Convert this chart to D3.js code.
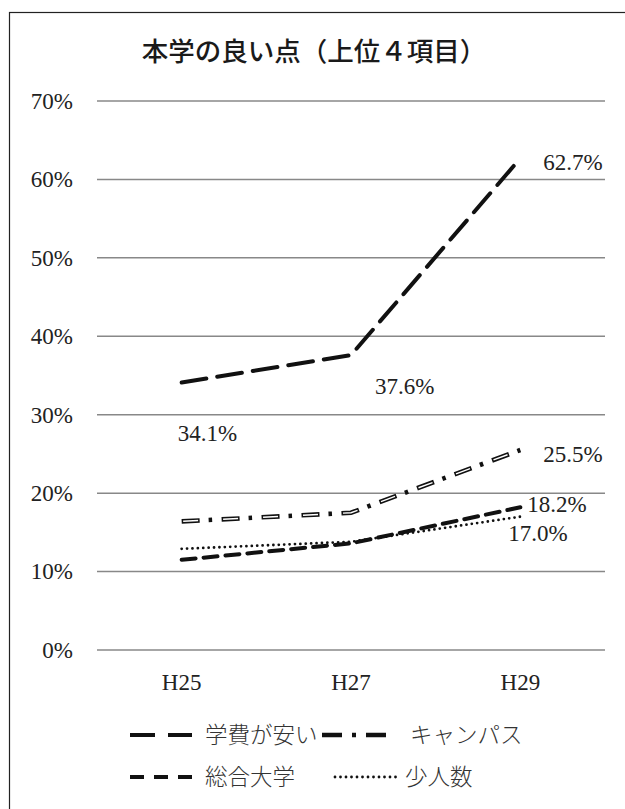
<!DOCTYPE html>
<html>
<head>
<meta charset="utf-8">
<script src="https://cdn.jsdelivr.net/npm/d3@7"></script>
<style>
  body { margin: 0; background: #fff; }
  svg { display: block; }
  .num { font-family: 'Liberation Serif', 'Times New Roman', 'DejaVu Serif', serif; }
</style>
</head>
<body>
<div id="chart"></div>
<script>
// data
var years = ['H25', 'H27', 'H29']
var tuition = [34.1, 37.6, 62.7]   // 学費が安い
var campus = [16.4, 17.5, 25.5]    // キャンパス
var general = [11.5, 13.6, 18.2]   // 総合大学
var small = [12.9, 13.8, 17.0]     // 少人数
var yTicks = [0, 10, 20, 30, 40, 50, 60, 70]

var W = 625, H = 809
var svg = d3.select('#chart').append('svg').attr('width', W).attr('height', H)

// outer frame
svg.append('rect')
  .attr('x', 9.5).attr('y', 12.5)
  .attr('width', 625).attr('height', 809)
  .attr('fill', 'white').attr('stroke', '#222').attr('stroke-width', 1.2)

svg.append('text')
  .text('本学の良い点（上位４項目）')
  .attr('x', 314).attr('y', 61)
  .attr('text-anchor', 'middle')
  .style('font-family', "'Noto Sans CJK JP'")
  .style('font-weight', 500)
  .style('font-size', '26.5px')
  .attr('fill', '#1a1a1a')

var x = d3.scaleBand().domain(years).range([97, 605])
var y = d3.scaleLinear().domain([0, 70]).range([650, 101])

// gridlines
svg.append('g').selectAll('line')
  .data(yTicks).join('line')
  .attr('x1', 97).attr('x2', 605)
  .attr('y1', d => y(d)).attr('y2', d => y(d))
  .attr('stroke', '#888').attr('stroke-width', 1.5)

// y axis labels
var yAxis = svg.append('g')
  .attr('transform', 'translate(76,0)')
  .call(d3.axisLeft(y).tickValues(yTicks).tickFormat(d => d + '%').tickSize(0))
yAxis.select('.domain').remove()
yAxis.selectAll('text')
  .attr('class', 'num').style('font-size', '23px').attr('fill', '#222')

// x axis labels
var xAxis = svg.append('g')
  .attr('transform', 'translate(0,671)')
  .call(d3.axisBottom(x).tickSize(0))
xAxis.select('.domain').remove()
xAxis.selectAll('text')
  .attr('class', 'num').style('font-size', '23px').attr('fill', '#222')

var px = (d, i) => x(years[i]) + x.bandwidth() / 2
var line = d3.line().x(px).y(d => y(d))

var styles = {
  tuition: { w: 4, dash: '25,11' },
  general: { w: 4, dash: '14,8' },
  small: { w: 2.8, dash: '0,5.4' }
}

function drawLine(g, vals, style) {
  if (style == 'campus') {
    g.append('path').attr('d', line(vals))
      .attr('fill', 'none').attr('stroke', '#111').attr('stroke-width', 4.6)
      .attr('stroke-dasharray', '18,9,3.5,9.5').attr('stroke-linecap', 'butt')
    g.append('path').attr('d', line(vals))
      .attr('fill', 'none').attr('stroke', 'white').attr('stroke-width', 1.4)
      .attr('stroke-dasharray', '0,1.5,15,23.5').attr('stroke-linecap', 'butt')
  } else {
    var s = styles[style]
    g.append('path').attr('d', line(vals))
      .attr('fill', 'none').attr('stroke', '#111')
      .attr('stroke-width', s.w)
      .attr('stroke-dasharray', s.dash)
      .attr('stroke-linecap', 'round')
  }
}

var lines = svg.append('g')
drawLine(lines, small, 'small')
drawLine(lines, general, 'general')
drawLine(lines, campus, 'campus')
drawLine(lines, tuition, 'tuition')

// value labels
var labels = [
  { v: tuition[0], i: 0, dx: -4, dy: 58 },
  { v: tuition[1], i: 1, dx: 24, dy: 39 },
  { v: tuition[2], i: 2, dx: 23, dy: 12 },
  { v: campus[2], i: 2, dx: 23, dy: 12 },
  { v: general[2], i: 2, dx: 7, dy: 5 },
  { v: small[2], i: 2, dx: -12, dy: 24 }
]
svg.append('g').selectAll('text')
  .data(labels).join('text')
  .text(d => d.v.toFixed(1) + '%')
  .attr('x', d => px(null, d.i) + d.dx)
  .attr('y', d => y(d.v) + d.dy)
  .attr('class', 'num').style('font-size', '23px').attr('fill', '#222')

// legend
var legend = [
  { name: '学費が安い', key: 'tuition', x: 128, y: 735, tx: 205 },
  { name: 'キャンパス', key: 'campus', x: 322, y: 735, tx: 410 },
  { name: '総合大学', key: 'general', x: 128, y: 777, tx: 205 },
  { name: '少人数', key: 'small', x: 333, y: 777, tx: 405 }
]
legend.forEach(l => {
  var g = svg.append('g')
  if (l.key == 'campus') {
    g.append('path').attr('d', `M${l.x},${l.y}H${l.x + 64}`)
      .attr('stroke', '#111').attr('stroke-width', 4.6).attr('stroke-dasharray', '20,10,4,10,20')
  } else {
    var dash = l.key == 'tuition' ? '25,13' : l.key == 'general' ? '14,10' : '0,5.5'
    g.append('path').attr('d', `M${l.x + 2},${l.y}H${l.x + 64}`)
      .attr('stroke', '#111').attr('stroke-width', styles[l.key].w)
      .attr('stroke-dasharray', dash).attr('stroke-linecap', l.key == 'small' ? 'round' : 'butt')
  }
  g.append('text').text(l.name)
    .attr('x', l.tx).attr('y', l.y + 8)
    .style('font-family', "'Noto Sans CJK JP'").style('font-weight', 300)
    .style('font-size', '22.5px').attr('fill', '#333')
})
</script>
</body>
</html>
